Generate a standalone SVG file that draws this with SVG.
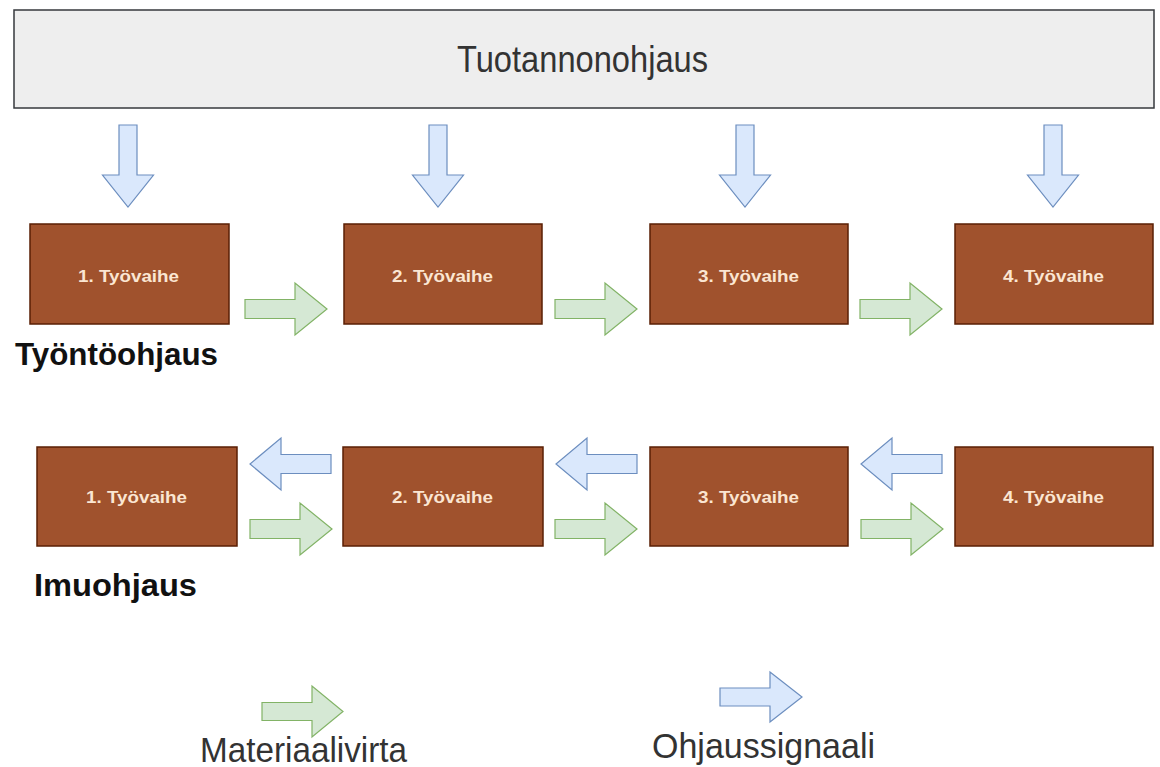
<svg xmlns="http://www.w3.org/2000/svg" width="1160" height="767" viewBox="0 0 1160 767">
  <defs>
    <style>
      .bg { fill: #ffffff; }
      .ctrl-box { fill: #eeeeee; stroke: #36393d; stroke-width: 1.5; }
      .step { fill: #a0522d; stroke: #5a1f05; stroke-width: 1.5; }
      .step-label { font-family: "Liberation Sans", Arial, sans-serif; font-weight: bold; font-size: 17px; fill: #fbe6d2; }
      .signal { fill: #dae8fc; stroke: #6c8ebf; stroke-width: 1.2; stroke-linejoin: miter; }
      .flow { fill: #d5e8d4; stroke: #82b366; stroke-width: 1.2; stroke-linejoin: miter; }
      .title { font-family: "Liberation Sans", Arial, sans-serif; font-size: 37px; fill: #333333; }
      .section { font-family: "Liberation Sans", Arial, sans-serif; font-weight: bold; font-size: 31px; fill: #111111; }
      .legend { font-family: "Liberation Sans", Arial, sans-serif; font-size: 35px; fill: #333333; }
    </style>
    <!-- block arrow shapes, drawn pointing right / left / down from origin -->
    <path id="arrow-right" d="M0,-9.5 H50 V-26 L82,0 L50,26 V9.5 H0 Z"/>
    <path id="arrow-left" d="M0,-9.5 H-50 V-26 L-82,0 L-50,26 V9.5 H0 Z" transform="scale(-1,1)"/>
    <path id="arrow-down" d="M-9,0 V50 H-25.5 L0,82 L25.5,50 H9 V0 Z"/>
  </defs>

  <rect class="bg" x="0" y="0" width="1160" height="767"/>

  <!-- production control -->
  <g id="tuotannonohjaus">
    <rect class="ctrl-box" x="14" y="10" width="1140" height="98"/>
    <text class="title" x="457" y="72" textLength="251" lengthAdjust="spacingAndGlyphs">Tuotannonohjaus</text>
  </g>

  <!-- push control row -->
  <g id="push-step-1">
    <rect class="step" x="30" y="224" width="199" height="100"/>
    <text class="step-label" x="78" y="282" textLength="101" lengthAdjust="spacingAndGlyphs">1. Työvaihe</text>
  </g>
  <g id="push-step-2">
    <rect class="step" x="344" y="224" width="198" height="100"/>
    <text class="step-label" x="392" y="282" textLength="101" lengthAdjust="spacingAndGlyphs">2. Työvaihe</text>
  </g>
  <g id="push-step-3">
    <rect class="step" x="650" y="224" width="198" height="100"/>
    <text class="step-label" x="698" y="282" textLength="101" lengthAdjust="spacingAndGlyphs">3. Työvaihe</text>
  </g>
  <g id="push-step-4">
    <rect class="step" x="955" y="224" width="198" height="100"/>
    <text class="step-label" x="1003" y="282" textLength="101" lengthAdjust="spacingAndGlyphs">4. Työvaihe</text>
  </g>

  <text id="label-push" class="section" x="15" y="365" textLength="203" lengthAdjust="spacingAndGlyphs">Työntöohjaus</text>

  <!-- pull control row -->
  <g id="pull-step-1">
    <rect class="step" x="37" y="447" width="200" height="99"/>
    <text class="step-label" x="86" y="503" textLength="101" lengthAdjust="spacingAndGlyphs">1. Työvaihe</text>
  </g>
  <g id="pull-step-2">
    <rect class="step" x="343" y="447" width="200" height="99"/>
    <text class="step-label" x="392" y="503" textLength="101" lengthAdjust="spacingAndGlyphs">2. Työvaihe</text>
  </g>
  <g id="pull-step-3">
    <rect class="step" x="650" y="447" width="198" height="99"/>
    <text class="step-label" x="698" y="503" textLength="101" lengthAdjust="spacingAndGlyphs">3. Työvaihe</text>
  </g>
  <g id="pull-step-4">
    <rect class="step" x="955" y="447" width="198" height="99"/>
    <text class="step-label" x="1003" y="503" textLength="101" lengthAdjust="spacingAndGlyphs">4. Työvaihe</text>
  </g>

  <text id="label-pull" class="section" x="34" y="596" textLength="163" lengthAdjust="spacingAndGlyphs">Imuohjaus</text>

  <!-- connectors: control signals and material flow -->
  <g id="connectors">
    <!-- control signals down from production control -->
    <use href="#arrow-down" class="signal" x="128" y="125"/>
    <use href="#arrow-down" class="signal" x="438" y="125"/>
    <use href="#arrow-down" class="signal" x="745" y="125"/>
    <use href="#arrow-down" class="signal" x="1053" y="125"/>

    <!-- push: material flow -->
    <use href="#arrow-right" class="flow" x="245" y="309"/>
    <use href="#arrow-right" class="flow" x="555" y="309"/>
    <use href="#arrow-right" class="flow" x="860" y="309"/>

    <!-- pull: control signals back upstream -->
    <path class="signal" d="M331,454.5 H281 V438 L250,464 L281,490 V473.5 H331 Z"/>
    <path class="signal" d="M637,454.5 H587 V438 L556,464 L587,490 V473.5 H637 Z"/>
    <path class="signal" d="M942,454.5 H892 V438 L861,464 L892,490 V473.5 H942 Z"/>

    <!-- pull: material flow -->
    <use href="#arrow-right" class="flow" x="250" y="529"/>
    <use href="#arrow-right" class="flow" x="555" y="529"/>
    <use href="#arrow-right" class="flow" x="861" y="529"/>
  </g>

  <!-- legend -->
  <g id="legend-flow">
    <path class="flow" d="M262,702.5 H312 V686 L343,711.5 L312,737 V720.5 H262 Z"/>
    <text class="legend" x="200" y="762" textLength="207" lengthAdjust="spacingAndGlyphs">Materiaalivirta</text>
  </g>
  <g id="legend-signal">
    <path class="signal" d="M720,688 H770 V672 L802,697 L770,722 V706 H720 Z"/>
    <text class="legend" x="652" y="758" textLength="223" lengthAdjust="spacingAndGlyphs">Ohjaussignaali</text>
  </g>
</svg>
